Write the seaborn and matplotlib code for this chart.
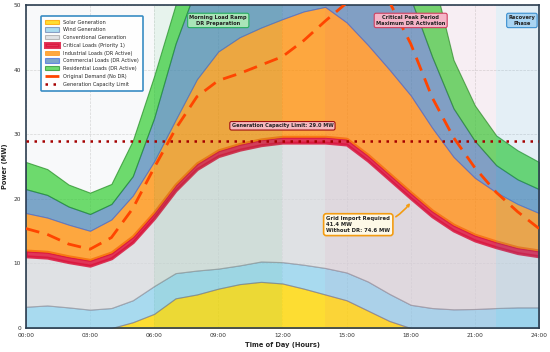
import numpy as np
import pandas as pd
import seaborn as sns
import matplotlib.pyplot as plt

# hourly values (MW)
hours = list(range(25))
solar = [0, 0, 0, 0, 0, 0.9, 2.2, 4.6, 5.2, 6.1, 6.8, 7.15, 6.9, 6.1, 5.2, 4.3, 2.7, 1.1, 0, 0, 0, 0, 0, 0, 0]
wind = [3.3, 3.5, 3.2, 2.85, 3.1, 3.4, 4.3, 3.9, 3.7, 3.1, 2.9, 3.15, 3.3, 3.7, 4.1, 4.3, 4.5, 4.2, 3.6, 3.1, 2.9, 2.95, 3.1, 3.2, 3.2]
conventional = [7.8, 7.4, 7.0, 6.8, 7.7, 9.0, 10.5, 12.8, 15.7, 17.4, 17.9, 18.0, 18.5, 18.9, 19.4, 19.8, 18.7, 17.7, 16.5, 14.2, 12.2, 10.6, 9.4, 8.4, 7.9]
critical = [0.9, 0.9, 0.9, 0.9, 0.9, 0.9, 0.9, 0.9, 0.9, 0.9, 0.9, 0.9, 0.9, 0.9, 0.9, 0.9, 0.9, 0.9, 0.9, 0.9, 0.9, 0.9, 0.9, 0.9, 0.9]
industrial = [5.8, 5.3, 4.9, 4.5, 5.1, 6.3, 7.9, 10.0, 13.0, 15.3, 16.5, 17.3, 18.2, 19.4, 20.1, 18.0, 17.0, 16.1, 15.0, 12.8, 10.5, 8.8, 7.6, 6.7, 5.8]
commercial = [3.7, 3.5, 2.8, 2.6, 2.4, 3.0, 6.7, 11.8, 14.5, 13.2, 12.0, 11.0, 10.2, 9.5, 9.3, 11.2, 13.2, 14.5, 15.0, 11.0, 7.5, 5.7, 4.2, 3.8, 3.7]
residential = [4.2, 4.0, 3.4, 3.3, 3.1, 5.5, 6.5, 6.0, 5.0, 6.0, 6.0, 6.0, 6.0, 6.0, 6.0, 6.5, 7.0, 7.5, 9.5, 13.0, 7.5, 5.5, 4.6, 4.5, 4.2]
original_demand = [15.4, 14.5, 13.0, 12.2, 14.0, 18.5, 24.8, 30.8, 35.8, 38.3, 39.4, 40.7, 42.0, 44.5, 47.5, 50.3, 53.0, 50.5, 44.0, 35.7, 29.5, 24.8, 21.0, 18.0, 15.4]
capacity_limit = 29.0
tick_hours = [0, 3, 6, 9, 12, 15, 18, 21, 24]
tick_labels = ['00:00', '03:00', '06:00', '09:00', '12:00', '15:00', '18:00', '21:00', '24:00']

sns.set_theme(style='whitegrid')
plt.rcParams['font.family'] = ['DejaVu Sans']

df = pd.DataFrame({'hour': hours, 'solar': solar, 'wind': wind, 'conventional': conventional,
                   'critical': critical, 'industrial': industrial, 'commercial': commercial,
                   'residential': residential, 'original': original_demand})

fig = plt.figure(figsize=(5.5, 3.52), dpi=100)
ax = fig.add_axes([0.047, 0.068, 0.933, 0.918])
ax.set_facecolor('#f8f9fa')

layers = [
    ('Solar Generation', 'solar', '#FFD700', '#FFA500', 0.8, 0.8),
    ('Wind Generation', 'wind', '#87CEEB', '#6a7fb0', 0.7, 0.8),
    ('Conventional Generation', 'conventional', '#d5d8dc', '#a0a0a0', 0.7, 0.8),
    ('Critical Loads (Priority 1)', 'critical', '#DC143C', '#DC143C', 0.85, 2.2),
    ('Industrial Loads (DR Active)', 'industrial', '#FF8C00', '#FF8C00', 0.75, 0.6),
    ('Commercial Loads (DR Active)', 'commercial', '#4682B4', '#4169E1', 0.7, 0.8),
    ('Residential Loads (DR Active)', 'residential', '#32CD32', '#228B22', 0.7, 0.8),
]
base = np.zeros(len(df))
for name, col, face, edge, alpha, lw in layers:
    top = base + df[col].to_numpy()
    ax.fill_between(df['hour'], base, top, facecolor=face, edgecolor=edge, alpha=alpha,
                    linewidth=lw, label=name, zorder=1)
    base = top

sns.lineplot(data=df, x='hour', y='original', ax=ax, color='#FF4500', linestyle=(0, (5, 3)),
             linewidth=2.0, label='Original Demand (No DR)', zorder=4)
ax.axhline(capacity_limit, color='#a50000', linestyle=(0, (1, 2.2)), linewidth=1.8,
           label='Generation Capacity Limit', zorder=4)

# phase shading
ax.axvspan(6, 12, color='#27ae60', alpha=0.08, zorder=2, lw=0)
ax.axvspan(14, 22, color='#e84a8a', alpha=0.06, zorder=2, lw=0)
ax.axvspan(22, 24, color='#3498db', alpha=0.1, zorder=2, lw=0)

phase_text = [
    (9, 'Morning Load Ramp\nDR Preparation', '#a9e5b8', '#27ae60'),
    (18, 'Critical Peak Period\nMaximum DR Activation', '#f5b5c8', '#d04060'),
    (23.2, 'Recovery\nPhase', '#a9d4f2', '#3a8fd0'),
]
for x, txt, fc, ec in phase_text:
    ax.text(x, 47.6, txt, ha='center', va='center', fontsize=3.7, fontweight='bold', color='#222',
            bbox=dict(boxstyle='round,pad=0.35', fc=fc, ec=ec, lw=0.8), zorder=6)

ax.text(12, 31.3, f'Generation Capacity Limit: {capacity_limit:.1f} MW', ha='center', va='center',
        fontsize=3.6, fontweight='bold', color='#222',
        bbox=dict(boxstyle='round,pad=0.35', fc='#f7b9c0', ec='#a01010', lw=0.8), zorder=6)

ax.annotate('Grid Import Required\n41.4 MW\nWithout DR: 74.6 MW', xy=(18.05, 19.7), xytext=(14.05, 16.0),
            ha='left', va='center', fontsize=3.8, fontweight='bold', color='#222',
            bbox=dict(boxstyle='round,pad=0.5', fc='#fef9e7', ec='#f39c12', lw=1.2),
            arrowprops=dict(arrowstyle='->', color='#f39c12', lw=1.2, connectionstyle='arc3,rad=0.3'),
            zorder=6)

ax.set_xlim(0, 24)
ax.set_ylim(0, 50)
ax.set_xticks(tick_hours)
ax.set_xticklabels(tick_labels)
ax.set_yticks([0, 10, 20, 30, 40, 50])
ax.tick_params(labelsize=4.2, colors='#333333', pad=1.5, length=2)
ax.set_xlabel('Time of Day (Hours)', fontsize=4.8, fontweight='bold', labelpad=3)
ax.set_ylabel('Power (MW)', fontsize=4.8, fontweight='bold', labelpad=4)
ax.grid(True, linestyle='--', linewidth=0.5, color='#c8c8c8', alpha=0.7)
ax.set_axisbelow(True)
for s in ax.spines.values():
    s.set_color('#2c3e50')
    s.set_linewidth(1.2)

leg = ax.legend(loc='upper left', bbox_to_anchor=(0.025, 0.975), fontsize=3.6, frameon=True,
                fancybox=True, framealpha=0.95, borderpad=0.8, labelspacing=0.55, handlelength=2.8,
                handleheight=0.9)
leg.get_frame().set_edgecolor('#2e86c1')
leg.get_frame().set_linewidth(1.2)
leg.set_zorder(10)

fig.savefig('out.png', dpi=100)
